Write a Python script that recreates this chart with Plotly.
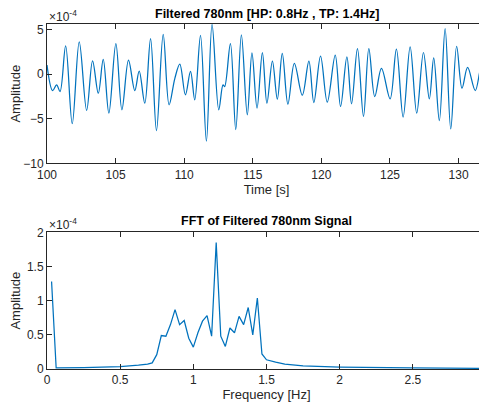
import plotly.graph_objects as go

# Top: filtered signal extrema (time in s, amplitude in 1e-4)
time_s = [100.0, 100.41, 100.70, 100.95, 101.36, 101.84, 102.35, 102.89, 103.32, 103.74,
          104.10, 104.51, 105.02, 105.46, 105.94, 106.40, 106.72, 107.13, 107.55, 107.98,
          108.47, 108.90, 109.32, 109.68, 110.09, 110.46, 110.77, 111.19, 111.62, 112.03,
          112.52, 112.83, 112.95, 113.37, 113.76, 114.17, 114.60, 114.94, 115.31, 115.70,
          116.03, 116.43, 116.79, 117.15, 117.56, 118.03, 118.61, 119.09, 119.45, 119.94,
          120.43, 121.01, 121.40, 121.86, 122.20, 122.63, 123.07, 123.46, 123.89, 124.38,
          125.01, 125.47, 125.96, 126.47, 126.95, 127.44, 127.87, 128.19, 128.60, 129.02,
          129.43, 129.86, 130.25, 130.66, 131.22, 131.68, 132.0]
amp_e4 = [1.0, -1.85, -1.2, -1.96, 3.15, -5.56, 3.6, -4.07, 1.48, -2.15,
          1.63, -4.37, 3.41, -4.0, 1.56, -1.85, 0.33, -3.26, 3.96, -6.33,
          4.44, -3.44, -0.48, 1.11, -2.33, 0.3, -2.89, 4.33, -7.52, 5.56,
          -4.0, -1.22, -1.4, 3.41, -6.22, 4.37, -4.56, 2.37, -3.81, 2.41,
          -3.26, 1.44, -2.81, 2.3, -3.37, 1.19, -2.37, 1.44, -3.19, 2.0,
          -3.15, 2.11, -3.63, 1.93, -3.33, 2.85, -4.74, 2.85, -2.52, 0.63,
          -2.78, 2.78, -4.81, 3.04, -4.37, 2.41, -2.78, 1.81, -5.22, 5.07,
          -6.15, 3.11, -1.59, 0.74, -1.85, 0.93, -0.48]

# Bottom: FFT (frequency in Hz, amplitude in 1e-4)
freq_hz = [0.03125, 0.0625, 0.25, 0.5, 0.625, 0.6875, 0.71875, 0.75, 0.78125, 0.8125,
           0.84375, 0.875, 0.90625, 0.9375, 0.96875, 1.0, 1.03125, 1.0625, 1.09375, 1.125,
           1.15625, 1.1875, 1.21875, 1.25, 1.28125, 1.3125, 1.34375, 1.375, 1.40625, 1.4375,
           1.46875, 1.5, 1.5625, 1.625, 1.75, 2.0, 2.5, 3.0]
fft_e4 = [1.28, 0.015, 0.02, 0.035, 0.055, 0.07, 0.09, 0.21, 0.49, 0.48,
          0.65, 0.87, 0.65, 0.71, 0.45, 0.32, 0.53, 0.70, 0.78, 0.48,
          1.85, 0.48, 0.33, 0.60, 0.53, 0.77, 0.65, 0.90, 0.50, 1.04,
          0.22, 0.135, 0.10, 0.07, 0.045, 0.028, 0.015, 0.01]

x_ticks_top = [100, 105, 110, 115, 120, 125, 130]
y_ticks_top = [-10, -5, 0, 5]
x_ticks_bot = [0, 0.5, 1, 1.5, 2, 2.5, 3]
y_ticks_bot = [0, 0.5, 1, 1.5, 2]

LINE = "#0072BD"
AX = "#262626"
FONT = "Liberation Sans, Arial, sans-serif"

fig = go.Figure()
fig.add_trace(go.Scatter(x=time_s, y=amp_e4, mode="lines", line=dict(color=LINE, width=1.25, shape="spline", smoothing=1.0),
                         xaxis="x", yaxis="y", showlegend=False))
fig.add_trace(go.Scatter(x=freq_hz, y=fft_e4, mode="lines", line=dict(color=LINE, width=1.25),
                         xaxis="x2", yaxis="y2", showlegend=False))

axcommon = dict(showline=True, linecolor=AX, linewidth=1, mirror="ticks", ticks="inside", ticklen=5,
                tickcolor=AX, showgrid=False, zeroline=False, automargin=False, ticklabeloverflow="allow",
                tickfont=dict(family=FONT, size=12, color=AX))

# The page body has an 8px margin, so the figure is sized to fit the window from (8, 8).
fig.update_layout(
    width=479, height=402,
    margin=dict(l=39, r=1, t=16, b=41),
    paper_bgcolor="white", plot_bgcolor="white",
    font=dict(family=FONT, color=AX),
    xaxis=dict(domain=[0, 1], range=[100, 132], tickvals=x_ticks_top, anchor="y",
               title=dict(text="Time [s]", font=dict(size=13, color=AX), standoff=2), **axcommon),
    yaxis=dict(domain=[0.596, 1], range=[-10, 5.6], tickvals=y_ticks_top, anchor="x",
               title=dict(text="Amplitude", font=dict(size=13, color=AX), standoff=6), **axcommon),
    xaxis2=dict(domain=[0, 1], range=[0, 3], tickvals=x_ticks_bot, anchor="y2",
                title=dict(text="Frequency [Hz]", font=dict(size=13, color=AX), standoff=2), **axcommon),
    yaxis2=dict(domain=[0, 0.396], range=[0, 2], tickvals=y_ticks_bot, anchor="x2",
                title=dict(text="Amplitude", font=dict(size=13, color=AX), standoff=6), **axcommon),
    annotations=[
        dict(text="<b>Filtered 780nm [HP: 0.8Hz , TP: 1.4Hz]</b>", x=0.5, y=1, xref="paper", yref="paper",
             yanchor="bottom", yshift=1, showarrow=False, font=dict(size=12.5, color="black")),
        dict(text="<b>FFT of Filtered 780nm Signal</b>", x=0.5, y=0.396, xref="paper", yref="paper",
             yanchor="bottom", yshift=2, showarrow=False, font=dict(size=12.5, color="black")),
        dict(text="×10<sup>-4</sup>", x=0, y=1, xref="paper", yref="paper", xanchor="left",
             yanchor="bottom", yshift=-2, showarrow=False, font=dict(size=12, color=AX)),
        dict(text="×10<sup>-4</sup>", x=0, y=0.396, xref="paper", yref="paper", xanchor="left",
             yanchor="bottom", yshift=-2, showarrow=False, font=dict(size=12, color=AX)),
    ],
)

fig.write_html("out.html")
